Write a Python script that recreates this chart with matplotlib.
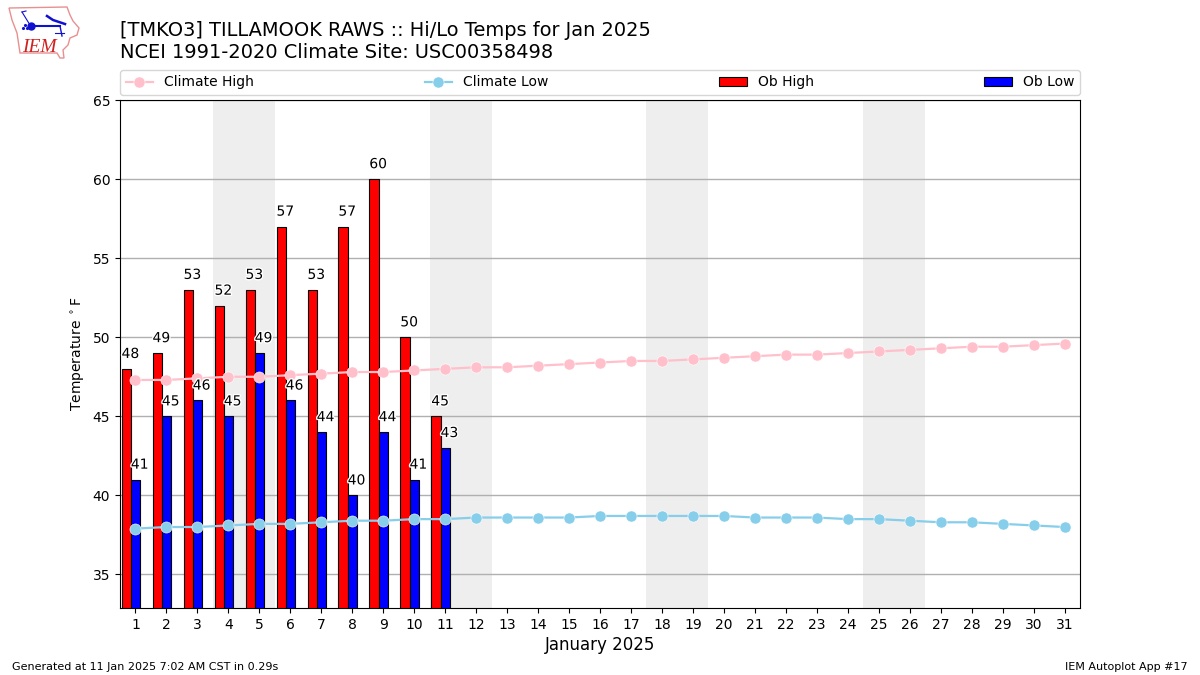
import matplotlib
matplotlib.use('Agg')
import matplotlib.pyplot as plt
import matplotlib.patheffects as pe
import numpy as np
from matplotlib.patches import Polygon

# daily values
days = list(range(1, 32))
ob_days = list(range(1, 12))
ob_high = [48, 49, 53, 52, 53, 57, 53, 57, 60, 50, 45]
ob_low = [41, 45, 46, 45, 49, 46, 44, 40, 44, 41, 43]
climate_high = [47.3, 47.3, 47.4, 47.5, 47.5, 47.6, 47.7, 47.8, 47.8, 47.9, 48.0,
                48.1, 48.1, 48.2, 48.3, 48.4, 48.5, 48.5, 48.6, 48.7, 48.8, 48.9,
                48.9, 49.0, 49.1, 49.2, 49.3, 49.4, 49.4, 49.5, 49.6]
climate_low = [37.9, 38.0, 38.0, 38.1, 38.2, 38.2, 38.3, 38.4, 38.4, 38.5, 38.5,
               38.6, 38.6, 38.6, 38.6, 38.7, 38.7, 38.7, 38.7, 38.7, 38.6, 38.6,
               38.6, 38.5, 38.5, 38.4, 38.3, 38.3, 38.2, 38.1, 38.0]
weekends = [(4, 5), (11, 12), (18, 19), (25, 26)]
yticks = [35, 40, 45, 50, 55, 60, 65]

W, H = 1200, 675
fig = plt.figure(figsize=(12, 6.75), dpi=100)
ax = fig.add_axes([120 / W, 1 - 608 / H, 960 / W, 508 / H])

for first, last in weekends:
    ax.axvspan(first - 0.5, last + 0.5, color='#eeeeee', lw=0, zorder=0)

ax.set_axisbelow(True)
ax.grid(axis='y', color='#b0b0b0', lw=1)

# bars sit a little left of the day tick
x = np.array(ob_days) - 0.145
width = 0.3
ax.bar(x - width / 2, ob_high, width, color='red', edgecolor='k', lw=0.8,
       label='Ob High', zorder=2)
ax.bar(x + width / 2, ob_low, width, color='blue', edgecolor='k', lw=0.8,
       label='Ob Low', zorder=2)

ax.plot(days, climate_high, '-o', color='pink', lw=1.6, ms=8, mec='white', mew=0.4,
        label='Climate High', zorder=3)
ax.plot(days, climate_low, '-o', color='skyblue', lw=1.6, ms=8, mec='white', mew=0.4,
        label='Climate Low', zorder=3)

for xx, hi, lo in zip(x, ob_high, ob_low):
    for xpos, val in ((xx - width / 2 + 0.13, hi), (xx + width / 2 + 0.13, lo)):
        ax.text(xpos, val + 0.5, str(val), ha='center', va='bottom', fontsize=10,
                color='k', zorder=4,
                path_effects=[pe.withStroke(linewidth=2, foreground='white')])

ax.set_xlim(0.5, 31.5)
ax.set_ylim(32.88, 65)
ax.set_xticks(days)
ax.set_yticks(yticks)
ax.tick_params(labelsize=10)
ax.set_xlabel('January 2025', fontsize=12, labelpad=3)
ax.set_ylabel(r'Temperature $^\circ$F', fontsize=10)

handles, labels = ax.get_legend_handles_labels()
order = [labels.index(n) for n in ['Climate High', 'Climate Low', 'Ob High', 'Ob Low']]
ax.legend([handles[i] for i in order], [labels[i] for i in order], ncol=4, mode='expand',
          loc='lower left', bbox_to_anchor=(0, 1.0098, 1, 0.05), borderaxespad=0, fontsize=10)

fig.text(120 / W, 1 - 62 / H, '[TMKO3] TILLAMOOK RAWS :: Hi/Lo Temps for Jan 2025\n'
         'NCEI 1991-2020 Climate Site: USC00358498', fontsize=13.95, ha='left', va='bottom')
fig.text(12 / W, 1 - 670 / H, 'Generated at 11 Jan 2025 7:02 AM CST in 0.29s', fontsize=8)
fig.text(1188 / W, 1 - 670 / H, 'IEM Autoplot App #17', fontsize=8, ha='right')

# logo, drawn in pixel coords
logo = fig.add_axes([0, 1 - 60 / H, 85 / W, 60 / H])
logo.set_xlim(0, 85)
logo.set_ylim(60, 0)
logo.axis('off')
outline = [(9, 8), (67, 7), (70, 15), (73, 21), (79, 28), (77, 35), (70, 38), (68, 45),
           (63, 50), (64, 58), (60, 58), (57, 53), (20, 53), (17, 33), (12, 20)]
logo.add_patch(Polygon(outline, closed=True, fc='white', ec='#e89090', lw=1))
blue = '#1010d0'
logo.plot([31, 60], [26, 26], color=blue, lw=1.5)
logo.plot([31], [26], 'o', color=blue, ms=5)
logo.plot([22, 30], [12, 25], color=blue, lw=0.8)
logo.plot([22, 26], [12, 11], color=blue, lw=0.8)
logo.plot([47, 53, 65], [16, 20, 24], color=blue, lw=1.8)
logo.plot([60, 62], [26, 36], color=blue, lw=1)
logo.plot([55, 64], [33, 33], color=blue, lw=0.8)
logo.plot([23, 25, 27], [28, 25, 28], '.', color=blue, ms=2.5)
logo.text(22, 51.5, 'IEM', family='Liberation Serif', style='italic', fontsize=14,
          color='#d02020', va='baseline')

fig.savefig('out.png', dpi=100)
